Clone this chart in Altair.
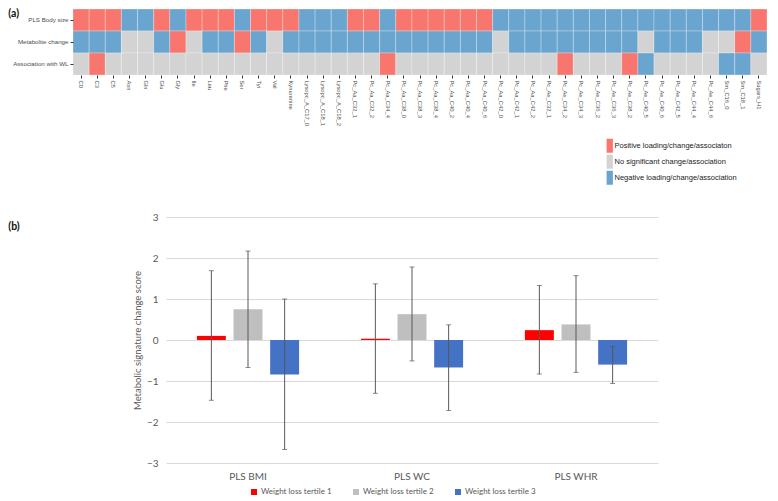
import altair as alt
import pandas as pd

# ---------------- Panel (a) data ----------------
metabolites = ["C0", "C3", "C5", "Asn", "Gln", "Glu", "Gly", "Ile", "Leu", "Phe", "Ser", "Tyr", "Val",
               "Kynurenine", "Lysopc_A_C17_0", "Lysopc_A_C18_1", "Lysopc_A_C18_2", "Pc_Aa_C32_1",
               "Pc_Aa_C32_2", "Pc_Aa_C34_4", "Pc_Aa_C38_0", "Pc_Aa_C38_3", "Pc_Aa_C38_4", "Pc_Aa_C40_2",
               "Pc_Aa_C40_4", "Pc_Aa_C40_6", "Pc_Aa_C42_0", "Pc_Aa_C42_1", "Pc_Aa_C42_2", "Pc_Ae_C32_1",
               "Pc_Ae_C34_2", "Pc_Ae_C34_3", "Pc_Ae_C36_2", "Pc_Ae_C36_3", "Pc_Ae_C38_2", "Pc_Ae_C40_5",
               "Pc_Ae_C40_6", "Pc_Ae_C42_5", "Pc_Ae_C44_4", "Pc_Ae_C44_6", "Sm_C16_0", "Sm_C18_1",
               "Sugars_H1"]
row_names = ["PLS Body size", "Metabolite change", "Association with WL"]
# 1 = positive, 0 = no significant, -1 = negative
pls_body_size = [1, 1, 1, -1, -1, 1, -1, 1, 1, 1, -1, 1, 1, 1, -1, -1, -1, 1, 1, -1, 1, 1, 1, 1, 1, 1,
                 -1, -1, -1, -1, -1, -1, -1, -1, -1, -1, -1, -1, -1, -1, -1, -1, 1]
metabolite_change = [-1, -1, -1, 0, 0, -1, 1, 0, -1, -1, 1, -1, 0, -1, -1, -1, -1, -1, -1, -1, -1, -1,
                     -1, -1, -1, -1, 0, -1, -1, -1, -1, -1, -1, -1, -1, 0, -1, -1, -1, 0, 0, 1, -1]
association_wl = [0, 1, 0, 0, 0, 0, 0, 0, 0, 0, 0, 0, 0, 0, 0, 0, 0, 0, 0, 1, 0, 0, 0, 0, 0, 0, 0, 0, 0,
                  0, 1, 0, 0, 0, 1, -1, 0, 0, 0, 0, -1, -1, 0]
status_labels = ["Positive loading/change/associaton", "No significant change/association",
                 "Negative loading/change/association"]
status_colors = ["#F8766D", "#D3D3D3", "#6AA5CF"]

code_to_label = {1: status_labels[0], 0: status_labels[1], -1: status_labels[2]}
heat_rows = []
for rname, codes in zip(row_names, [pls_body_size, metabolite_change, association_wl]):
    for m, c in zip(metabolites, codes):
        heat_rows.append({"metabolite": m, "row": rname, "status": code_to_label[c]})
hdf = pd.DataFrame(heat_rows)

# ---------------- Panel (b) data ----------------
signatures = ["PLS BMI", "PLS WC", "PLS WHR"]
tertiles = ["Weight loss tertile 1", "Weight loss tertile 2", "Weight loss tertile 3"]
tertile_colors = ["#FF0000", "#BFBFBF", "#4472C4"]
means = {
    "PLS BMI": [0.10, 0.75, -0.84],
    "PLS WC": [0.03, 0.63, -0.67],
    "PLS WHR": [0.24, 0.38, -0.60],
}
err_low = {
    "PLS BMI": [-1.47, -0.67, -2.67],
    "PLS WC": [-1.30, -0.51, -1.72],
    "PLS WHR": [-0.83, -0.79, -1.06],
}
err_high = {
    "PLS BMI": [1.69, 2.17, 1.00],
    "PLS WC": [1.37, 1.78, 0.37],
    "PLS WHR": [1.33, 1.57, -0.16],
}
bar_rows = []
for s in signatures:
    for i, t in enumerate(tertiles):
        bar_rows.append({"signature": s, "tertile": t, "value": means[s][i],
                         "lo": err_low[s][i], "hi": err_high[s][i]})
bdf = pd.DataFrame(bar_rows)

# ---------------- Panel (a) chart ----------------
HFONT = "Liberation Sans"
rect_symbol = "M-0.9,-2H0.9V2H-0.9Z"

heat = alt.Chart(hdf).mark_rect(stroke="white", strokeWidth=0.6, strokeOpacity=0.45).encode(
    x=alt.X("metabolite:N", sort=metabolites,
            scale=alt.Scale(paddingInner=0, paddingOuter=0),
            axis=alt.Axis(title=None, labelAngle=90, labelFontSize=5.8, labelFont=HFONT,
                          labelColor="#4D4D4D", domain=False, tickColor="#333333", tickSize=3,
                          labelPadding=2, labelOverlap=False)),
    y=alt.Y("row:N", sort=row_names,
            scale=alt.Scale(paddingInner=0, paddingOuter=0),
            axis=alt.Axis(title=None, labelFontSize=6.2, labelFont=HFONT, labelColor="#4D4D4D",
                          domain=False, tickColor="#333333", tickSize=3, labelPadding=2)),
    color=alt.Color("status:N",
                    scale=alt.Scale(domain=status_labels, range=status_colors),
                    legend=alt.Legend(title=None, orient="none", legendX=533, legendY=133,
                                      symbolType=rect_symbol, symbolSize=49, symbolStrokeWidth=0,
                                      symbolOpacity=1, labelFont=HFONT, labelFontSize=7.5,
                                      labelColor="#222222", rowPadding=1, labelOffset=1)),
)

a_label = alt.Chart(pd.DataFrame({"t": ["(a)"]})).mark_text(
    align="left", baseline="top", fontSize=10.5, fontWeight="bold", font="Lato", color="#111111"
).encode(text="t:N", x=alt.value(-64.7), y=alt.value(0))

panel_a = alt.layer(heat, a_label).properties(width=694, height=66)

# ---------------- Panel (b) chart ----------------
BFONT = "Lato"
GREY = "#595959"

xenc = alt.X("signature:N", sort=signatures,
             scale=alt.Scale(paddingInner=0.33, paddingOuter=0.165),
             axis=alt.Axis(title=None, labelAngle=0, domain=False, ticks=False, labelColor=GREY,
                           labelFontSize=10, labelFont=BFONT, labelPadding=8))
xoff = alt.XOffset("tertile:N", sort=tertiles, scale=alt.Scale(paddingInner=0.21, paddingOuter=0.105))
yscale = alt.Scale(domain=[-3, 3])

bars = alt.Chart(bdf).mark_bar().encode(
    x=xenc,
    xOffset=xoff,
    y=alt.Y("value:Q", scale=yscale,
            axis=alt.Axis(title="Metabolic signature change score", values=[-3, -2, -1, 0, 1, 2, 3],
                          grid=True, gridColor="#D9D9D9", gridWidth=1, domain=False, ticks=False,
                          labelColor=GREY, labelFontSize=10, labelFont=BFONT, labelPadding=8,
                          titleColor=GREY, titleFontSize=9.5, titleFont=BFONT, titleFontWeight="normal",
                          titlePadding=4)),
    color=alt.Color("tertile:N", sort=tertiles,
                    scale=alt.Scale(domain=tertiles, range=tertile_colors),
                    legend=alt.Legend(title=None, orient="none", legendX=177, legendY=271,
                                      direction="horizontal",
                                      symbolType="square", symbolSize=36, symbolStrokeWidth=0,
                                      labelColor=GREY, labelFontSize=8, labelFont=BFONT,
                                      columnPadding=20, labelOffset=3)),
)
rules = alt.Chart(bdf).mark_rule(color="#595959", strokeWidth=1).encode(
    x=xenc, xOffset=xoff, y=alt.Y("lo:Q", scale=yscale), y2="hi:Q")
cap_lo = alt.Chart(bdf).mark_tick(color="#595959", thickness=1, size=5, orient="horizontal").encode(
    x=xenc, xOffset=xoff, y=alt.Y("lo:Q", scale=yscale))
cap_hi = alt.Chart(bdf).mark_tick(color="#595959", thickness=1, size=5, orient="horizontal").encode(
    x=xenc, xOffset=xoff, y=alt.Y("hi:Q", scale=yscale))

panel_b = alt.layer(bars, rules, cap_lo, cap_hi).properties(width=492, height=246)

b_label = alt.Chart(pd.DataFrame({"t": ["(b)"]})).mark_text(
    align="left", baseline="top", fontSize=10.5, fontWeight="bold", font="Lato", color="#111111"
).encode(text="t:N", x=alt.value(-64.7), y=alt.value(5)).properties(width=59, height=246)

bottom = alt.hconcat(b_label, panel_b, spacing=0)

chart = alt.vconcat(panel_a, bottom, spacing=27).resolve_scale(
    color="independent").resolve_legend(color="independent").properties(padding=0).configure_view(
    stroke=None)

chart.save("out.html", embed_options={"renderer": "svg", "actions": False})
